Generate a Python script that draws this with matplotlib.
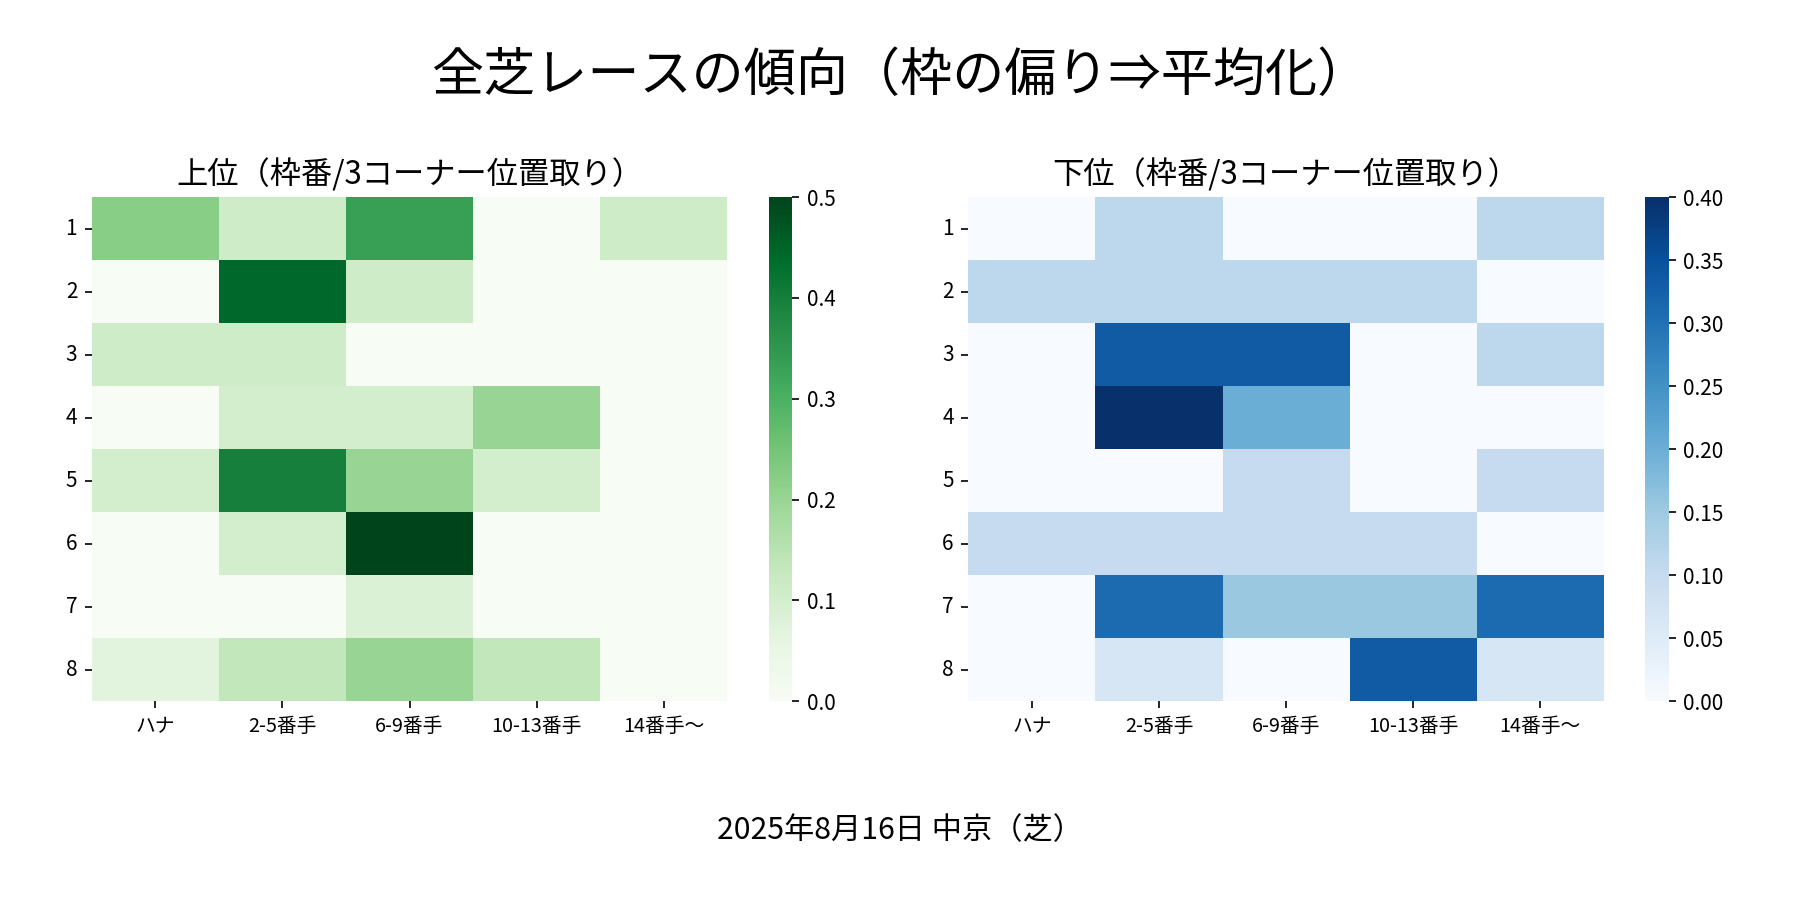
import numpy as np
import matplotlib
matplotlib.use('Agg')
import matplotlib.pyplot as plt
import seaborn as sns

# 列・行ラベル
cols = ['ハナ', '2-5番手', '6-9番手', '10-13番手', '14番手～']
waku = ['1', '2', '3', '4', '5', '6', '7', '8']

# 上位（枠番×3コーナー位置取り）の割合
top = [
    [0.222, 0.111, 0.333, 0.0,   0.111],
    [0.0,   0.444, 0.111, 0.0,   0.0],
    [0.111, 0.111, 0.0,   0.0,   0.0],
    [0.0,   0.100, 0.100, 0.200, 0.0],
    [0.100, 0.400, 0.200, 0.100, 0.0],
    [0.0,   0.100, 0.500, 0.0,   0.0],
    [0.0,   0.0,   0.083, 0.0,   0.0],
    [0.067, 0.133, 0.200, 0.133, 0.0],
]

# 下位（枠番×3コーナー位置取り）の割合
bottom = [
    [0.0,   0.111, 0.0,   0.0,   0.111],
    [0.111, 0.111, 0.111, 0.111, 0.0],
    [0.0,   0.333, 0.333, 0.0,   0.111],
    [0.0,   0.400, 0.200, 0.0,   0.0],
    [0.0,   0.0,   0.100, 0.0,   0.100],
    [0.100, 0.100, 0.100, 0.100, 0.0],
    [0.0,   0.308, 0.154, 0.154, 0.308],
    [0.0,   0.067, 0.0,   0.333, 0.067],
]

plt.rcParams['font.family'] = ['Noto Sans CJK JP', 'DejaVu Sans']

fig = plt.figure(figsize=(12, 6), dpi=150)

ax1 = fig.add_axes([0.051, 0.221, 0.353, 0.560])
cax1 = fig.add_axes([0.427, 0.221, 0.013, 0.560])
ax2 = fig.add_axes([0.538, 0.221, 0.353, 0.560])
cax2 = fig.add_axes([0.914, 0.221, 0.013, 0.560])

sns.heatmap(np.array(top), ax=ax1, cbar_ax=cax1, cmap='Greens',
            vmin=0, vmax=np.max(top), xticklabels=cols, yticklabels=waku)
ax1.set_title('上位（枠番/3コーナー位置取り）', fontsize=15)

sns.heatmap(np.array(bottom), ax=ax2, cbar_ax=cax2, cmap='Blues',
            vmin=0, vmax=np.max(bottom), xticklabels=cols, yticklabels=waku)
ax2.set_title('下位（枠番/3コーナー位置取り）', fontsize=15)

for ax in (ax1, ax2):
    ax.tick_params(axis='x', labelsize=9.5, rotation=0)
    ax.tick_params(axis='y', labelsize=10, rotation=0)

fig.suptitle('全芝レースの傾向（枠の偏り⇒平均化）', fontsize=25, y=0.945)
fig.text(0.5, 0.077, '2025年8月16日 中京（芝）', ha='center', va='center', fontsize=14.5)

fig.savefig('out.png', dpi=150)
